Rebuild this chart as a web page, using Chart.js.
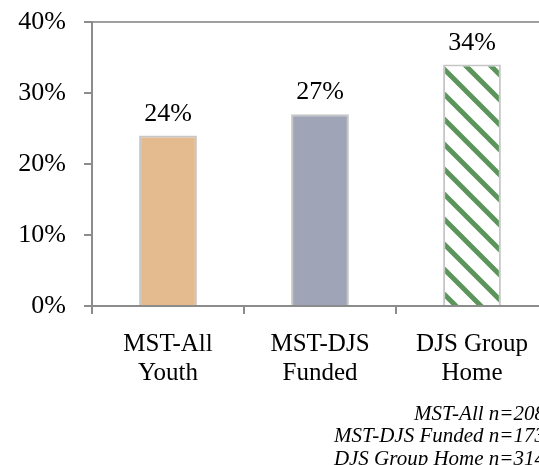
<!DOCTYPE html>
<html>
<head>
<meta charset="utf-8">
<script src="https://cdn.jsdelivr.net/npm/chart.js@4.4.1/dist/chart.umd.min.js"></script>
<style>
    html, body { margin: 0; padding: 0; background: #fff; overflow: hidden; }
    #wrap { width: 560px; height: 465px; position: relative; }
</style>
</head>
<body>
<div id="wrap"><canvas id="chart-bars"></canvas></div>
<script>
const categories = [['MST-All', 'Youth'], ['MST-DJS', 'Funded'], ['DJS Group', 'Home']];
const values = [24, 27, 34];
const yTicks = [0, 10, 20, 30, 40];
const notes = ['MST-All n=208', 'MST-DJS Funded n=173', 'DJS Group Home n=314'];

// diagonal green stripes for the third bar
function stripes() {
    const c = document.createElement('canvas');
    c.width = 25; c.height = 25;
    const g = c.getContext('2d');
    g.fillStyle = '#fff';
    g.fillRect(0, 0, 25, 25);
    g.strokeStyle = '#5b955c';
    g.lineWidth = 5;
    g.beginPath();
    g.moveTo(-5, -5); g.lineTo(30, 30);
    g.moveTo(-30, -5); g.lineTo(5, 30);
    g.moveTo(20, -5); g.lineTo(55, 30);
    g.stroke();
    return g.createPattern(c, 'repeat');
}

const valueLabels = {
    id: 'valueLabels',
    afterDatasetsDraw(chart) {
        const ctx = chart.ctx;
        ctx.save();
        ctx.font = '26px "Liberation Serif"';
        ctx.fillStyle = '#000';
        ctx.textAlign = 'center';
        ctx.textBaseline = 'alphabetic';
        chart.getDatasetMeta(0).data.forEach((bar, i) => {
            ctx.fillText(values[i] + '%', bar.x, bar.y - 15);
        });
        ctx.restore();
    }
};

const noteText = {
    id: 'noteText',
    afterDraw(chart) {
        const ctx = chart.ctx;
        ctx.save();
        ctx.font = 'italic 21px "Liberation Serif"';
        ctx.fillStyle = '#000';
        ctx.textAlign = 'right';
        ctx.textBaseline = 'middle';
        notes.forEach((t, i) => ctx.fillText(t, 545, 414 + i * 22.5));
        ctx.restore();
    }
};

const ctx = document.getElementById('chart-bars').getContext('2d');
new Chart(ctx, {
    type: 'bar',
    data: {
        labels: categories,
        datasets: [{
            data: values,
            backgroundColor: ['#e3bb8f', '#9fa4b6', stripes()],
            borderColor: '#c6c6c6',
            borderWidth: 2,
            barPercentage: 0.38,
            categoryPercentage: 1,
        }]
    },
    options: {
        responsive: true,
        maintainAspectRatio: false,
        animation: false,
        layout: { padding: { top: 22, right: 12, left: 0, bottom: 0 } },
        plugins: {
            legend: { display: false },
            tooltip: { enabled: false }
        },
        scales: {
            x: {
                afterFit: s => { s.height = 159; s.paddingLeft = 0; s.paddingRight = 0; },
                ticks: {
                    color: '#000',
                    font: { family: 'Liberation Serif', size: 25, lineHeight: 1.16 },
                    padding: 16,
                    maxRotation: 0,
                    autoSkip: false
                },
                grid: { drawOnChartArea: false, tickLength: 8, tickColor: '#8c8c8c', lineWidth: 2 },
                border: { color: '#8c8c8c', width: 2 }
            },
            y: {
                min: 0,
                max: 40,
                afterFit: s => { s.width = 92; s.paddingTop = 0; s.paddingBottom = 0; },
                afterBuildTicks: s => { s.ticks = yTicks.map(v => ({ value: v })); },
                ticks: {
                    color: '#000',
                    font: { family: 'Liberation Serif', size: 26 },
                    padding: 18,
                    callback: v => v + '%'
                },
                grid: {
                    color: c => c.tick && c.tick.value === 40 ? '#a0a0a0' : 'rgba(0,0,0,0)',
                    tickColor: '#8c8c8c',
                    tickLength: 8,
                    lineWidth: 2
                },
                border: { color: '#8c8c8c', width: 2 }
            }
        }
    },
    plugins: [valueLabels, noteText]
});
</script>
</body>
</html>
